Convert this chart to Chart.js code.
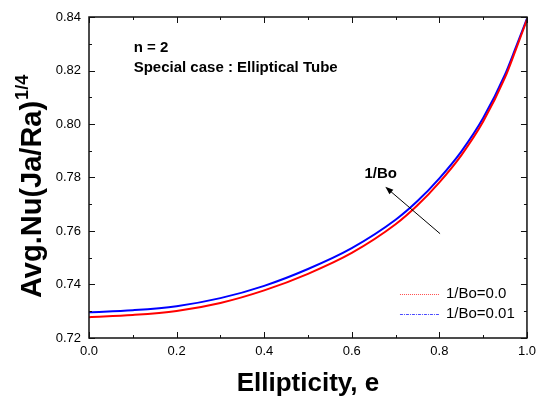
<!DOCTYPE html>
<html>
<head>
<meta charset="utf-8">
<script src="https://cdn.jsdelivr.net/npm/chart.js@4/dist/chart.umd.min.js"></script>
<style>
  body { margin: 0; background: #fff; }
  #wrap { width: 542px; height: 398px; }
</style>
</head>
<body>
<div id="wrap"><canvas id="chart" width="542" height="398"></canvas></div>
<script>
// Average Nusselt number vs ellipticity, n = 2 (elliptical tube)
const ellipticity = [0.0, 0.1, 0.2, 0.3, 0.4, 0.5, 0.6, 0.7, 0.75, 0.8, 0.85, 0.9, 0.95, 0.975, 1.0];
const nuBo0   = [0.7278, 0.7286, 0.7301, 0.7331, 0.7378, 0.7440, 0.7518, 0.7625, 0.7696, 0.7782, 0.7883, 0.8009, 0.8174, 0.8280, 0.8390];
const nuBo001 = [0.7296, 0.7304, 0.7319, 0.7349, 0.7395, 0.7458, 0.7536, 0.7642, 0.7712, 0.7797, 0.7897, 0.8022, 0.8185, 0.8288, 0.8394];

const seriesLabels = ['1/Bo=0.0', '1/Bo=0.01'];
const seriesColors = ['#ff0000', '#0000ff'];

const xTicks = [0.0, 0.2, 0.4, 0.6, 0.8, 1.0];
const xMinorTicks = [0.1, 0.3, 0.5, 0.7, 0.9];
const yTicks = [0.72, 0.74, 0.76, 0.78, 0.80, 0.82, 0.84];
const yMinorTicks = [0.73, 0.75, 0.77, 0.79, 0.81, 0.83];

const FONT = '"Liberation Sans", Arial, sans-serif';

const toPoints = (xs, ys) => xs.map((x, i) => ({ x: x, y: ys[i] }));

// frame, inward ticks, titles, notes and legend
const decorations = {
  id: 'decorations',
  afterDatasetsDraw(chart) {
    const { ctx, chartArea: a, scales: { x, y } } = chart;
    ctx.save();

    // box
    ctx.strokeStyle = '#111';
    ctx.lineWidth = 1.5;
    ctx.strokeRect(a.left, a.top, a.right - a.left, a.bottom - a.top);

    // ticks on all four sides, pointing in
    ctx.lineWidth = 1;
    ctx.beginPath();
    const xTick = (v, len) => {
      const px = Math.round(x.getPixelForValue(v)) + 0.5;
      ctx.moveTo(px, a.bottom); ctx.lineTo(px, a.bottom - len);
      ctx.moveTo(px, a.top); ctx.lineTo(px, a.top + len);
    };
    const yTick = (v, len) => {
      const py = Math.round(y.getPixelForValue(v)) + 0.5;
      ctx.moveTo(a.left, py); ctx.lineTo(a.left + len, py);
      ctx.moveTo(a.right, py); ctx.lineTo(a.right - len, py);
    };
    xTicks.forEach(v => xTick(v, 6));
    xMinorTicks.forEach(v => xTick(v, 3));
    yTicks.forEach(v => yTick(v, 6));
    yMinorTicks.forEach(v => yTick(v, 3));
    ctx.stroke();

    ctx.fillStyle = '#000';

    // x axis title
    ctx.font = 'bold 26px ' + FONT;
    ctx.textAlign = 'center';
    ctx.textBaseline = 'alphabetic';
    ctx.fillText('Ellipticity, e', (a.left + a.right) / 2, 391);

    // y axis title with superscript exponent
    ctx.save();
    ctx.translate(41, 298);
    ctx.rotate(-Math.PI / 2);
    ctx.textAlign = 'left';
    ctx.font = 'bold 29px ' + FONT;
    const main = 'Avg.Nu(Ja/Ra)';
    const w1 = ctx.measureText(main).width;
    ctx.fillText(main, 0, 0);
    ctx.font = 'bold 18px ' + FONT;
    ctx.fillText('1/4', w1 + 1, -13);
    ctx.restore();

    // notes
    ctx.font = 'bold 15px ' + FONT;
    ctx.textAlign = 'left';
    ctx.textBaseline = 'middle';
    ctx.fillText('n = 2', x.getPixelForValue(0.102), y.getPixelForValue(0.8285));
    ctx.fillText('Special case : Elliptical Tube', x.getPixelForValue(0.102), y.getPixelForValue(0.821));
    ctx.textAlign = 'center';
    ctx.fillText('1/Bo', x.getPixelForValue(0.666), y.getPixelForValue(0.7814));

    // arrow across the curves
    const x0 = x.getPixelForValue(0.8016), y0 = y.getPixelForValue(0.759);
    const x1 = x.getPixelForValue(0.6766), y1 = y.getPixelForValue(0.7765);
    const ang = Math.atan2(y1 - y0, x1 - x0);
    ctx.strokeStyle = '#000';
    ctx.lineWidth = 1;
    ctx.beginPath();
    ctx.moveTo(x0, y0);
    ctx.lineTo(x1 - 5 * Math.cos(ang), y1 - 5 * Math.sin(ang));
    ctx.stroke();
    ctx.beginPath();
    ctx.moveTo(x1, y1);
    ctx.lineTo(x1 - 8 * Math.cos(ang) + 3 * Math.sin(ang), y1 - 8 * Math.sin(ang) - 3 * Math.cos(ang));
    ctx.lineTo(x1 - 8 * Math.cos(ang) - 3 * Math.sin(ang), y1 - 8 * Math.sin(ang) + 3 * Math.cos(ang));
    ctx.closePath();
    ctx.fill();

    // legend, lower right
    const dashes = [[1, 1], [3, 1, 1, 1]];
    ctx.font = '15px ' + FONT;
    ctx.textAlign = 'left';
    seriesLabels.forEach((label, i) => {
      const ly = a.bottom - 44 + i * 20;
      ctx.strokeStyle = seriesColors[i];
      ctx.globalAlpha = 0.7;
      ctx.setLineDash(dashes[i]);
      ctx.beginPath();
      ctx.moveTo(a.right - 127, ly + 0.5);
      ctx.lineTo(a.right - 87, ly + 0.5);
      ctx.stroke();
      ctx.setLineDash([]);
      ctx.globalAlpha = 1;
      ctx.fillStyle = '#000';
      ctx.fillText(label, a.right - 81, ly);
    });

    ctx.restore();
  }
};

new Chart(document.getElementById('chart'), {
  type: 'line',
  data: {
    datasets: [
      {
        label: seriesLabels[0],
        data: toPoints(ellipticity, nuBo0),
        borderColor: seriesColors[0],
        borderWidth: 2,
        pointRadius: 0,
        cubicInterpolationMode: 'monotone'
      },
      {
        label: seriesLabels[1],
        data: toPoints(ellipticity, nuBo001),
        borderColor: seriesColors[1],
        borderWidth: 2,
        pointRadius: 0,
        cubicInterpolationMode: 'monotone'
      }
    ]
  },
  options: {
    responsive: false,
    animation: false,
    devicePixelRatio: 1,
    layout: { padding: { left: 0, right: 13, top: 17, bottom: 0 } },
    plugins: {
      legend: { display: false },
      tooltip: { enabled: false }
    },
    scales: {
      x: {
        type: 'linear',
        min: 0,
        max: 1,
        grid: { display: false, drawTicks: false },
        border: { display: false },
        afterBuildTicks: (s) => { s.ticks = xTicks.map(v => ({ value: v })); },
        afterFit: (s) => { s.height = 60; },
        ticks: {
          padding: 6,
          color: '#000',
          font: { family: FONT, size: 13 },
          callback: (v) => v.toFixed(1)
        }
      },
      y: {
        type: 'linear',
        min: 0.72,
        max: 0.84,
        grid: { display: false, drawTicks: false },
        border: { display: false },
        afterBuildTicks: (s) => { s.ticks = yTicks.map(v => ({ value: v })); },
        afterFit: (s) => { s.width = 89; },
        ticks: {
          padding: 8,
          color: '#000',
          font: { family: FONT, size: 13 },
          callback: (v) => v.toFixed(2)
        }
      }
    }
  },
  plugins: [decorations]
});
</script>
</body>
</html>
